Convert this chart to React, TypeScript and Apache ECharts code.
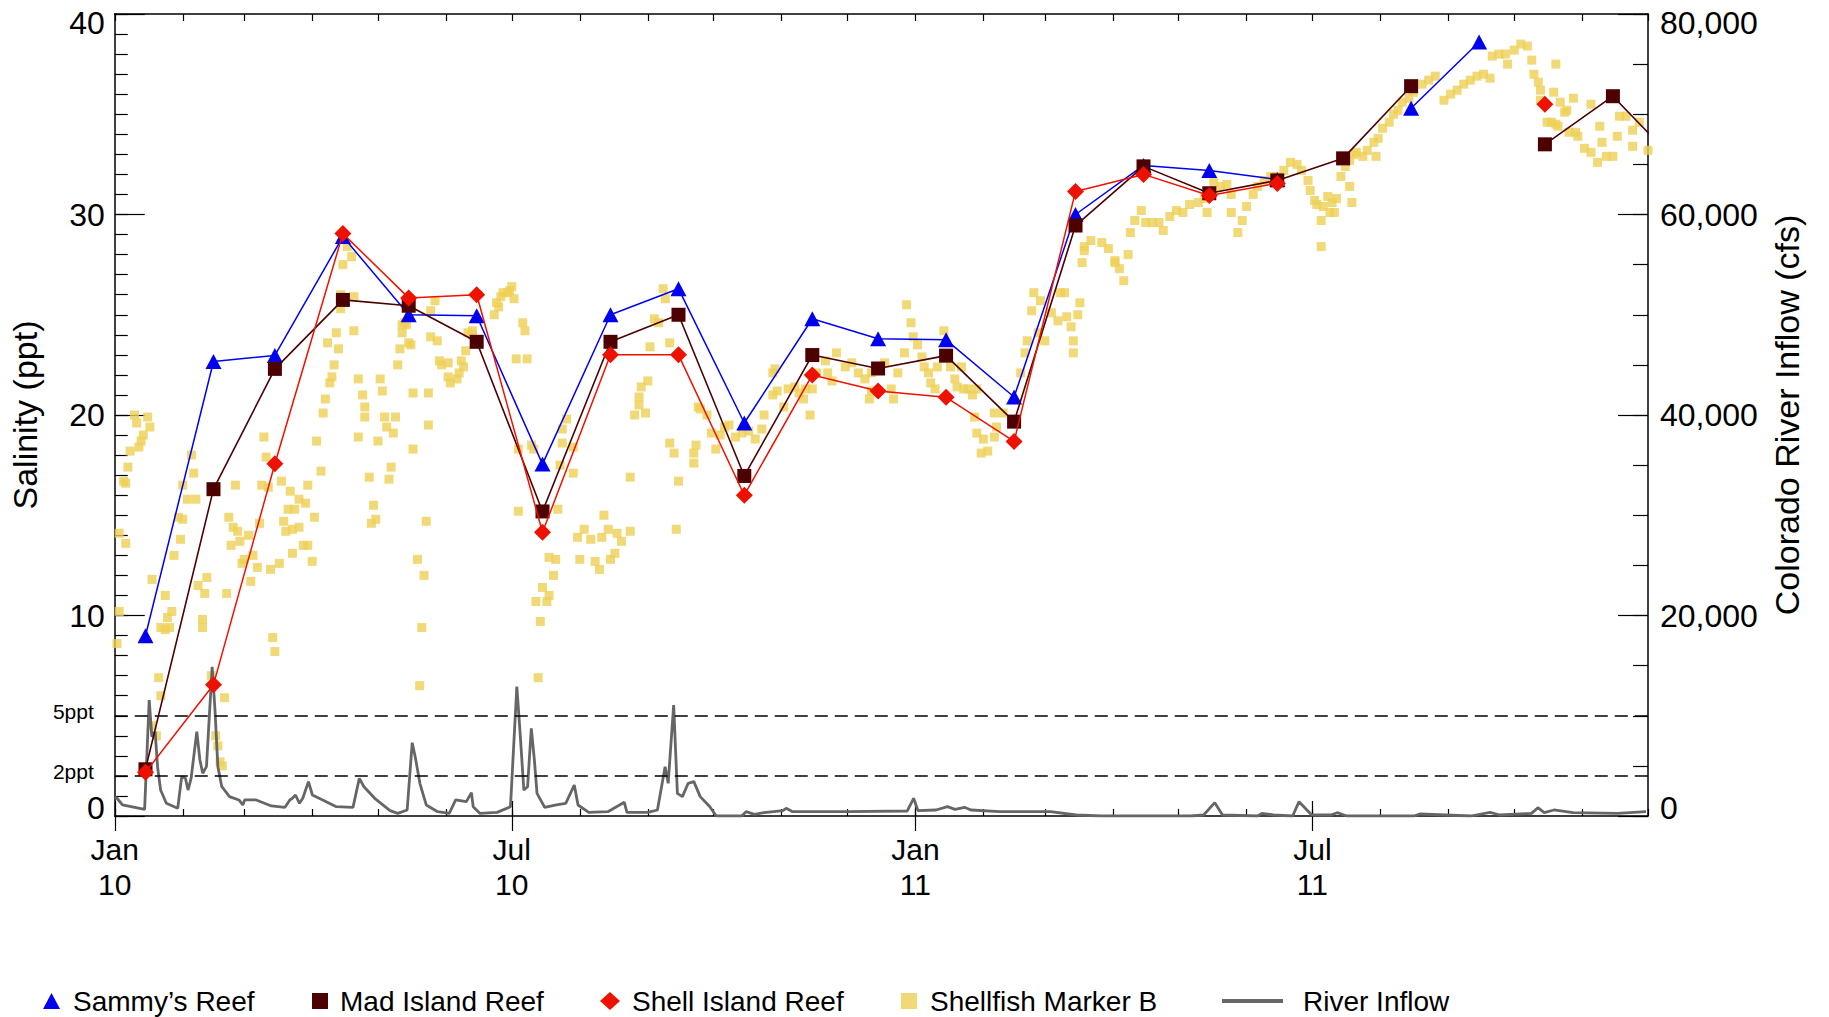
import React, { useEffect, useRef } from 'react';
import * as echarts from 'echarts';

const FONT = '"Liberation Sans", Arial, Helvetica, sans-serif';
const DAY = 86400000;
const START = new Date(2010, 0, 1).getTime();
const END = new Date(2011, 11, 1).getTime();

// Monthly reef samples (mid-month)
const sampleDates = [
  '2010-01-15', '2010-02-15', '2010-03-15', '2010-04-15', '2010-05-15', '2010-06-15',
  '2010-07-15', '2010-08-15', '2010-09-15', '2010-10-15', '2010-11-15', '2010-12-15',
  '2011-01-15', '2011-02-15', '2011-03-15', '2011-04-15', '2011-05-15', '2011-06-15',
  '2011-07-15', '2011-08-15', '2011-09-15', '2011-10-15', '2011-11-15', '2011-12-15',
];
const sammysReef = [8.99, 22.67, 22.97, 28.9, 25.0, 24.95, 17.55, 25.0, 26.3, 19.6, 24.8, 23.8, 23.75, 20.9, 30.0, 32.45, 32.2, 31.75, null, 35.3, 38.6, null, null, null];
const madIslandReef = [2.33, 16.3, 22.3, 25.74, 25.45, 23.65, 15.19, 23.65, 25.0, 16.96, 22.99, 22.32, 22.96, 19.67, 29.45, 32.4, 31.06, 31.7, 32.8, 36.4, null, 33.5, 35.9, 32.5];
const shellIslandReef = [2.18, 6.55, 17.57, 29.05, 25.84, 26.0, 14.15, 23.0, 23.0, 16.0, 22.0, 21.2, 20.88, 18.68, 31.15, 32.0, 30.95, 31.55, null, null, null, 35.5, null, null];

// Shellfish Marker B: [days since 2010-01-01, salinity ppt]
const markerB = [
  [1, 8.6], [2, 10.2], [2, 14.1], [5, 13.6], [4, 16.7], [5, 16.6], [6, 17.4], [7, 18.2], [9, 20.0], [10, 19.6], [11, 18.4], [12, 18.7], [13, 19.0], [15, 19.9], [16, 19.4],
  [17, 11.8], [17, 4.5], [19, 4.0], [20, 6.9], [21, 6.0], [21, 9.4], [23, 9.3], [23, 11.0], [24, 9.9], [25, 9.4], [26, 10.2], [27, 13.0], [29, 14.9], [30, 13.8], [31, 14.8], [31, 16.5], [33, 15.8], [35, 18.0], [36, 17.1], [37, 15.8], [38, 11.5], [40, 9.8], [40, 9.4], [41, 11.1], [42, 11.9], [44, 7.0], [46, 4.0], [47, 3.5], [48, 2.7], [49, 2.5], [50, 5.9], [51, 11.1], [52, 14.9], [53, 13.5], [54, 14.4], [55, 16.5], [56, 14.2], [57, 13.7], [58, 12.6], [59, 12.8], [61, 14.0], [62, 11.7], [63, 13.0], [65, 12.4], [66, 14.6], [67, 16.5], [68, 18.9], [69, 17.9], [70, 16.4], [71, 12.3], [72, 8.9], [73, 8.2], [75, 12.6], [76, 16.7], [77, 14.7], [78, 14.2], [79, 15.3], [80, 16.2], [81, 14.3], [81, 13.1], [82, 15.3], [84, 15.8], [84, 14.4], [86, 13.5], [87, 15.6], [88, 13.5], [88, 16.5], [90, 12.7], [91, 14.9], [92, 18.7], [94, 17.2], [95, 20.1], [96, 20.8], [97, 23.6], [98, 21.6], [99, 21.9], [100, 22.5], [101, 24.1], [102, 23.3], [103, 25.3], [103, 26.0], [104, 27.5], [106, 28.4], [108, 27.9], [109, 25.9], [109, 24.2], [111, 18.9], [111, 21.8], [113, 21.0], [114, 20.4], [114, 19.9], [116, 16.9], [117, 14.6], [118, 15.5], [119, 14.8], [120, 18.7], [121, 21.8], [122, 21.2], [123, 19.9], [124, 19.4], [125, 16.8], [126, 17.4], [127, 19.1], [128, 19.9], [129, 22.5], [130, 23.3], [131, 24.5], [131, 24.1], [132, 24.6], [133, 24.5], [134, 23.6], [135, 23.5], [136, 21.1], [136, 18.3], [138, 12.8], [139, 6.5], [140, 9.4], [141, 12.0], [142, 14.7], [143, 21.1], [143, 19.5], [144, 25.2], [144, 23.9], [146, 25.7], [147, 23.7], [148, 22.7], [149, 22.5], [152, 22.6], [152, 21.9], [153, 21.6], [156, 21.8], [157, 22.1], [158, 22.7], [159, 22.4], [160, 23.2], [161, 24.1], [163, 24.2], [163, 24.0],
  [173, 25.0], [174, 25.6], [175, 25.4], [176, 25.9], [177, 26.1], [179, 26.1], [180, 26.2], [181, 26.4], [182, 25.8], [184, 18.3], [184, 15.2], [186, 24.6], [187, 24.2], [183, 22.8], [188, 22.8], [190, 18.5], [191, 18.3], [192, 10.7], [193, 6.9], [194, 9.7], [195, 11.4], [197, 10.7], [198, 11.0], [198, 12.9], [200, 12.0], [201, 12.8], [202, 15.3], [203, 17.5], [204, 18.6], [204, 19.3], [206, 19.8], [209, 18.4], [209, 17.1], [211, 13.9], [212, 12.8], [214, 14.3], [217, 13.8], [219, 12.7], [221, 12.3], [222, 13.9], [223, 15.0], [225, 14.3], [226, 12.8], [228, 13.1], [229, 14.1], [231, 13.7], [235, 14.2], [235, 16.9], [237, 20.0], [239, 20.5], [239, 20.9], [240, 21.4], [242, 20.1], [243, 21.7], [244, 23.4], [246, 24.8], [248, 24.6], [250, 26.3], [251, 25.8], [253, 23.6], [253, 18.6], [255, 18.1], [256, 14.3], [257, 16.7], [264, 18.1], [265, 18.5], [266, 20.4],
  [264, 17.6], [267, 20.3], [270, 20.0], [272, 19.1], [274, 18.3], [276, 19.0], [278, 19.4], [280, 19.5], [283, 18.9], [286, 19.1], [289, 19.2], [292, 18.8], [295, 19.3], [296, 20.0], [300, 21.0], [300, 22.1], [301, 22.3], [302, 21.2], [305, 20.4], [307, 21.3], [310, 21.4], [312, 21.1], [314, 20.8], [315, 21.3], [317, 20.0], [318, 21.3], [320, 22.1], [324, 22.7], [325, 22.1], [327, 21.7], [329, 23.1], [333, 22.4], [336, 22.6], [339, 22.1], [342, 21.8], [344, 20.8], [345, 21.2], [345, 22.1], [347, 22.3], [351, 22.6], [354, 21.3], [355, 20.8], [357, 22.1], [360, 23.1], [361, 25.5], [363, 24.6], [364, 23.9], [366, 23.5], [368, 22.9], [369, 22.4], [371, 22.1], [372, 21.6], [374, 21.3], [375, 22.4], [378, 24.2], [381, 22.4], [383, 21.8], [384, 21.4], [386, 22.4], [387, 21.3], [389, 21.3], [391, 21.0], [392, 19.9], [393, 21.3], [393, 19.1], [395, 18.1], [396, 18.8], [398, 18.2], [401, 18.9], [401, 20.1], [402, 19.4], [405, 20.1],
  [413, 22.1], [415, 23.1], [416, 23.7], [418, 25.2], [419, 26.1], [421, 24.1], [422, 25.7], [424, 23.7], [427, 25.1], [430, 24.7], [431, 26.1], [433, 26.1], [434, 24.9], [436, 24.4], [437, 23.1], [437, 23.7], [439, 25.0], [440, 25.6], [441, 27.6], [442, 28.4], [442, 28.2], [445, 28.7], [450, 28.6], [453, 28.3], [456, 27.6], [456, 27.7], [458, 27.3], [460, 26.7], [462, 28.0], [463, 29.1], [465, 29.7], [468, 30.2], [470, 29.6], [473, 29.6], [476, 29.6], [478, 29.2], [481, 29.9], [484, 30.2], [487, 30.1], [490, 30.5], [494, 30.6], [497, 30.8], [498, 30.1], [501, 31.6], [504, 31.4], [507, 31.5], [509, 31.0], [509, 30.1], [512, 29.1], [514, 29.7], [516, 30.4], [519, 31.0], [521, 31.4], [524, 31.7], [527, 31.9], [530, 31.9], [533, 32.2], [536, 32.6], [539, 32.5], [541, 32.2], [544, 31.7], [545, 31.2], [547, 30.7], [548, 30.5], [550, 29.7], [550, 28.4], [551, 30.4], [553, 30.9], [554, 30.1], [555, 30.6], [556, 30.1], [557, 30.8], [559, 31.9], [561, 32.4], [563, 32.7], [563, 31.4], [564, 30.6], [565, 33.0], [566, 33.1], [569, 32.9], [571, 33.2], [574, 33.6], [575, 32.9], [576, 33.8], [578, 34.3], [581, 34.6], [583, 35.0], [585, 35.2], [587, 35.6], [590, 35.8], [592, 36.1], [596, 36.5], [599, 36.7], [602, 36.9], [606, 35.7], [609, 36.0], [612, 36.2], [615, 36.5], [618, 36.7], [621, 36.9], [624, 37.0], [627, 36.8], [628, 37.9], [631, 38.0], [634, 38.0], [635, 37.5], [638, 38.2], [641, 38.5], [644, 38.4], [646, 37.7], [647, 37.0], [649, 36.6], [650, 36.2], [650, 35.7], [653, 34.6], [655, 34.6], [656, 36.1], [657, 37.5], [657, 34.5], [658, 34.4], [659, 35.6], [661, 35.1], [662, 35.2], [663, 34.1], [665, 35.8], [666, 34.1], [667, 33.9], [670, 33.3], [673, 33.1], [673, 35.5], [676, 32.6], [677, 34.4], [678, 33.6], [680, 32.9], [683, 32.9], [685, 33.9], [686, 34.9], [689, 34.9], [692, 34.2], [692, 33.4], [695, 34.6], [699, 33.2],
];

// Colorado River inflow: [days since 2010-01-01, cfs]
const riverInflow = [
  [0, 1900], [1, 1770], [3.5, 1100], [13.6, 665], [15.7, 11570], [16.9, 7910], [18.4, 8410], [19.5, 4920], [20.9, 2590], [23.5, 1265], [28.7, 765],
  [30.5, 3920], [32.2, 3760], [33.4, 2590], [34.8, 3760], [37.4, 8410], [38.8, 5590], [40.1, 4260], [41.8, 4920], [44.4, 14890], [45.6, 10900],
  [47, 4920], [48.8, 2920], [52.3, 1930], [56.6, 1600], [58.4, 1100], [59.2, 1600], [64.5, 1600], [71.4, 1000], [77.6, 865], [79.8, 1600],
  [81, 1765], [82.4, 2095], [84.2, 1265], [85.7, 1765], [88.3, 3425], [90.1, 2095], [94.1, 1665], [101, 930], [108.6, 865], [111.5, 3760],
  [113.6, 2920], [118.5, 1765], [125.5, 530], [129, 265], [133.3, 600], [135.6, 7315], [137.1, 5755], [139.1, 3260], [142, 1100], [147.2, 430],
  [152.5, 265], [155.4, 1600], [160.3, 1430], [162.6, 2330], [163.4, 930], [166.4, 265], [174.3, 365], [180.4, 930], [183.3, 12900], [184.7, 8580],
  [186.5, 2590], [188.2, 2920], [189.9, 8750], [191.3, 5590], [192.5, 2260], [196, 865], [201.3, 1100], [205.6, 1265], [209.5, 3090], [211.2, 1100],
  [216.1, 365], [224.8, 430], [232.3, 1365], [233.5, 365], [243.1, 365], [247.4, 600], [250.9, 4920], [252.3, 3260], [254.8, 11070], [256.5, 2260],
  [258.8, 1930], [261.4, 3260], [264, 3425], [266.9, 1930], [271.3, 930], [274.2, 0], [285.8, 0], [287.8, 430], [291.6, 170], [296, 330],
  [304.6, 530], [306.1, 765], [309, 430], [333.7, 430], [361.3, 500], [364.2, 1765], [366.2, 530], [374.4, 600], [379.6, 930], [383.1, 665],
  [387.4, 865], [390.3, 600], [403.4, 430], [426.6, 430], [438.3, 100], [449.9, 0], [490.5, 0], [496.4, 100], [501.5, 1330], [505, 100],
  [521, 0], [523, 265], [528.3, 100], [537, 0], [539.9, 1430], [545.7, 100], [554.4, 100], [557.3, 330], [561.7, 0], [592.3, 0],
  [595, 200], [606.7, 100], [618.3, 0], [627, 365], [631.4, 100], [645.9, 265], [648.8, 830], [651.7, 330], [656.1, 600], [664.8, 330],
  [685.1, 265], [698.1, 430],
];

// Axis tick labels
const salinityLabels = [0, 10, 20, 30, 40];
const thresholdValues = [2, 5];
const thresholdLabels = ['2ppt', '5ppt'];
const flowLabelValues = [0, 20000, 40000, 60000, 80000];
const flowLabels = ['0', '20,000', '40,000', '60,000', '80,000'];
const monthNames = ['Jan', 'Feb', 'Mar', 'Apr', 'May', 'Jun', 'Jul', 'Aug', 'Sep', 'Oct', 'Nov', 'Dec'];

const COLORS = {
  sammy: '#0000F0',
  mad: '#4D0000',
  shell: '#EE1100',
  marker: '#EDCF55',
  river: '#666666',
};

const toTime = (d: number) => START + d * DAY;
const parseDate = (s: string) => {
  const [y, m, d] = s.split('-').map(Number);
  return new Date(y, m - 1, d).getTime();
};

export default function App() {
  const ref = useRef<HTMLDivElement>(null);

  useEffect(() => {
    if (!ref.current) return;
    const chart = echarts.init(ref.current, undefined, { renderer: 'svg' });

    const monthTicks: number[] = [];
    for (let i = 0; i < 24; i++) monthTicks.push(new Date(2010, i, 1).getTime());
    const halfYearTicks = monthTicks.filter((_, i) => i % 6 === 0);

    const xBase = {
      type: 'value',
      min: START,
      max: END,
      gridIndex: 0,
      splitLine: { show: false },
    };

    const salFmt = (v: number) => {
      if (v === 40) return '{t|40}';
      if (v === 0) return '{b|0}';
      if (salinityLabels.indexOf(v) >= 0) return '{n|' + v + '}';
      const ti = thresholdValues.indexOf(v);
      if (ti >= 0) return '{s|' + thresholdLabels[ti] + '}';
      return '';
    };
    const flowFmt = (v: number) => {
      const i = flowLabelValues.indexOf(v);
      if (i < 0) return '';
      if (v === 80000) return '{t|' + flowLabels[i] + '}';
      if (v === 0) return '{b|' + flowLabels[i] + '}';
      return '{n|' + flowLabels[i] + '}';
    };

    const labelRich = {
      n: { fontSize: 32, fontFamily: FONT, color: '#000' },
      t: { fontSize: 32, fontFamily: FONT, color: '#000', padding: [18, 0, 0, 0] },
      b: { fontSize: 32, fontFamily: FONT, color: '#000', padding: [0, 0, 16, 0] },
      s: { fontSize: 21, fontFamily: FONT, color: '#000', padding: [0, 11, 9, 0] },
    };

    const legendBase = {
      top: 981,
      orient: 'horizontal',
      selectedMode: false,
      itemGap: 0,
    };
    const legendText = (pad: number) => ({
      fontSize: 28,
      lineHeight: 30,
      fontFamily: FONT,
      color: '#000',
      padding: [0, 0, 0, pad],
    });

    const option = {
      animation: false,
      backgroundColor: '#fff',
      grid: { left: 113, right: 181, top: 14, bottom: 201, containLabel: false },
      legend: [
        { ...legendBase, left: 38, itemWidth: 17, itemHeight: 16, textStyle: legendText(8), data: [{ name: 'Sammy\u2019s Reef', icon: 'triangle' }] },
        { ...legendBase, left: 307, itemWidth: 16, itemHeight: 16, textStyle: legendText(7), data: [{ name: 'Mad Island Reef', icon: 'rect' }] },
        { ...legendBase, left: 595, itemWidth: 20, itemHeight: 18, textStyle: legendText(7), data: [{ name: 'Shell Island Reef', icon: 'diamond' }] },
        { ...legendBase, left: 896, itemWidth: 16, itemHeight: 16, textStyle: legendText(8), data: [{ name: 'Shellfish Marker B', icon: 'rect' }] },
        { ...legendBase, left: 1217, itemWidth: 61, itemHeight: 4, textStyle: legendText(15), data: [{ name: 'River Inflow', icon: 'rect' }] },
      ],
      xAxis: [
        {
          ...xBase,
          position: 'bottom',
          axisLine: { show: true, onZero: false, lineStyle: { color: '#000', width: 1.5 } },
          axisTick: { show: true, inside: true, length: 7, customValues: monthTicks, lineStyle: { color: '#000', width: 1.2 } },
          axisLabel: {
            show: true,
            customValues: halfYearTicks,
            showMinLabel: true,
            showMaxLabel: true,
            margin: 16,
            fontSize: 30,
            lineHeight: 35,
            fontFamily: FONT,
            color: '#000',
            formatter: (value: number) => {
              const d = new Date(value);
              const yy = String(d.getFullYear() % 100).padStart(2, '0');
              return monthNames[d.getMonth()] + '\n' + yy;
            },
          },
        },
        {
          ...xBase,
          position: 'bottom',
          axisLine: { show: false },
          axisTick: { show: true, inside: true, length: 15, customValues: halfYearTicks, lineStyle: { color: '#000', width: 1.2 } },
          axisLabel: { show: false },
        },
        {
          ...xBase,
          position: 'top',
          axisLine: { show: true, onZero: false, lineStyle: { color: '#000', width: 1.5 } },
          axisTick: { show: true, inside: true, length: 7, customValues: monthTicks, lineStyle: { color: '#000', width: 1.2 } },
          axisLabel: { show: false },
        },
        {
          ...xBase,
          position: 'top',
          axisLine: { show: false },
          axisTick: { show: true, inside: true, length: 15, customValues: halfYearTicks, lineStyle: { color: '#000', width: 1.2 } },
          axisLabel: { show: false },
        },
      ],
      yAxis: [
        {
          type: 'value',
          position: 'left',
          min: 0,
          max: 40,
          interval: 1,
          name: 'Salinity (ppt)',
          nameLocation: 'middle',
          nameRotate: 90,
          nameGap: 68,
          nameTextStyle: { fontSize: 34, fontFamily: FONT, color: '#000' },
          axisLine: { show: true, onZero: false, lineStyle: { color: '#000', width: 1.5 } },
          axisTick: { show: true, inside: true, length: 13, lineStyle: { color: '#000', width: 1.2 } },
          axisLabel: { show: true, margin: 10, formatter: salFmt, rich: labelRich },
          splitLine: { show: false },
        },
        {
          type: 'value',
          position: 'left',
          min: 0,
          max: 40,
          interval: 10,
          axisLine: { show: false },
          axisTick: { show: true, inside: true, length: 30, lineStyle: { color: '#000', width: 1.2 } },
          axisLabel: { show: false },
          splitLine: { show: false },
        },
        {
          type: 'value',
          position: 'right',
          min: 0,
          max: 80000,
          interval: 5000,
          name: 'Colorado River Inflow (cfs)',
          nameLocation: 'middle',
          nameRotate: 90,
          nameGap: 122,
          nameTextStyle: { fontSize: 34, fontFamily: FONT, color: '#000' },
          axisLine: { show: true, onZero: false, lineStyle: { color: '#000', width: 1.5 } },
          axisTick: { show: true, inside: true, length: 15, lineStyle: { color: '#000', width: 1.2 } },
          axisLabel: { show: true, margin: 12, formatter: flowFmt, rich: labelRich },
          splitLine: { show: false },
        },
        {
          type: 'value',
          position: 'right',
          min: 0,
          max: 80000,
          interval: 20000,
          axisLine: { show: false },
          axisTick: { show: true, inside: true, length: 30, lineStyle: { color: '#000', width: 1.2 } },
          axisLabel: { show: false },
          splitLine: { show: false },
        },
      ],
      series: [
        {
          name: 'Shellfish Marker B',
          type: 'scatter',
          xAxisIndex: 0,
          yAxisIndex: 0,
          symbol: 'rect',
          symbolSize: 9,
          itemStyle: { color: COLORS.marker },
          z: 2,
          data: markerB.map(([d, v]) => [toTime(d), v]),
        },
        {
          name: 'River Inflow',
          type: 'line',
          xAxisIndex: 0,
          yAxisIndex: 2,
          showSymbol: false,
          symbol: 'none',
          itemStyle: { color: COLORS.river },
          lineStyle: { color: COLORS.river, width: 2.8 },
          z: 3,
          data: riverInflow.map(([d, v]) => [toTime(d), v]),
        },
        {
          name: 'Sammy\u2019s Reef',
          type: 'line',
          xAxisIndex: 0,
          yAxisIndex: 0,
          symbol: 'triangle',
          symbolSize: [16, 15],
          connectNulls: false,
          itemStyle: { color: COLORS.sammy },
          lineStyle: { color: COLORS.sammy, width: 1.5 },
          z: 4,
          data: sampleDates.map((d, i) => [parseDate(d), sammysReef[i]]),
          markLine: {
            silent: true,
            symbol: ['none', 'none'],
            label: { show: false },
            lineStyle: { color: '#000', width: 1.5, type: [13, 7] },
            data: thresholdValues.map((v) => ({ yAxis: v })),
          },
        },
        {
          name: 'Mad Island Reef',
          type: 'line',
          xAxisIndex: 0,
          yAxisIndex: 0,
          symbol: 'rect',
          symbolSize: 14,
          connectNulls: false,
          itemStyle: { color: COLORS.mad },
          lineStyle: { color: COLORS.mad, width: 1.6 },
          z: 5,
          data: sampleDates.map((d, i) => [parseDate(d), madIslandReef[i]]),
        },
        {
          name: 'Shell Island Reef',
          type: 'line',
          xAxisIndex: 0,
          yAxisIndex: 0,
          symbol: 'diamond',
          symbolSize: 17,
          connectNulls: false,
          itemStyle: { color: COLORS.shell },
          lineStyle: { color: COLORS.shell, width: 1.5 },
          z: 6,
          data: sampleDates.map((d, i) => [parseDate(d), shellIslandReef[i]]),
        },
      ],
    };

    chart.setOption(option as any);
    return () => chart.dispose();
  }, []);

  return (
    <div
      ref={ref}
      style={{ position: 'fixed', left: 0, top: 0, width: 1829, height: 1017, background: '#fff' }}
    />
  );
}
